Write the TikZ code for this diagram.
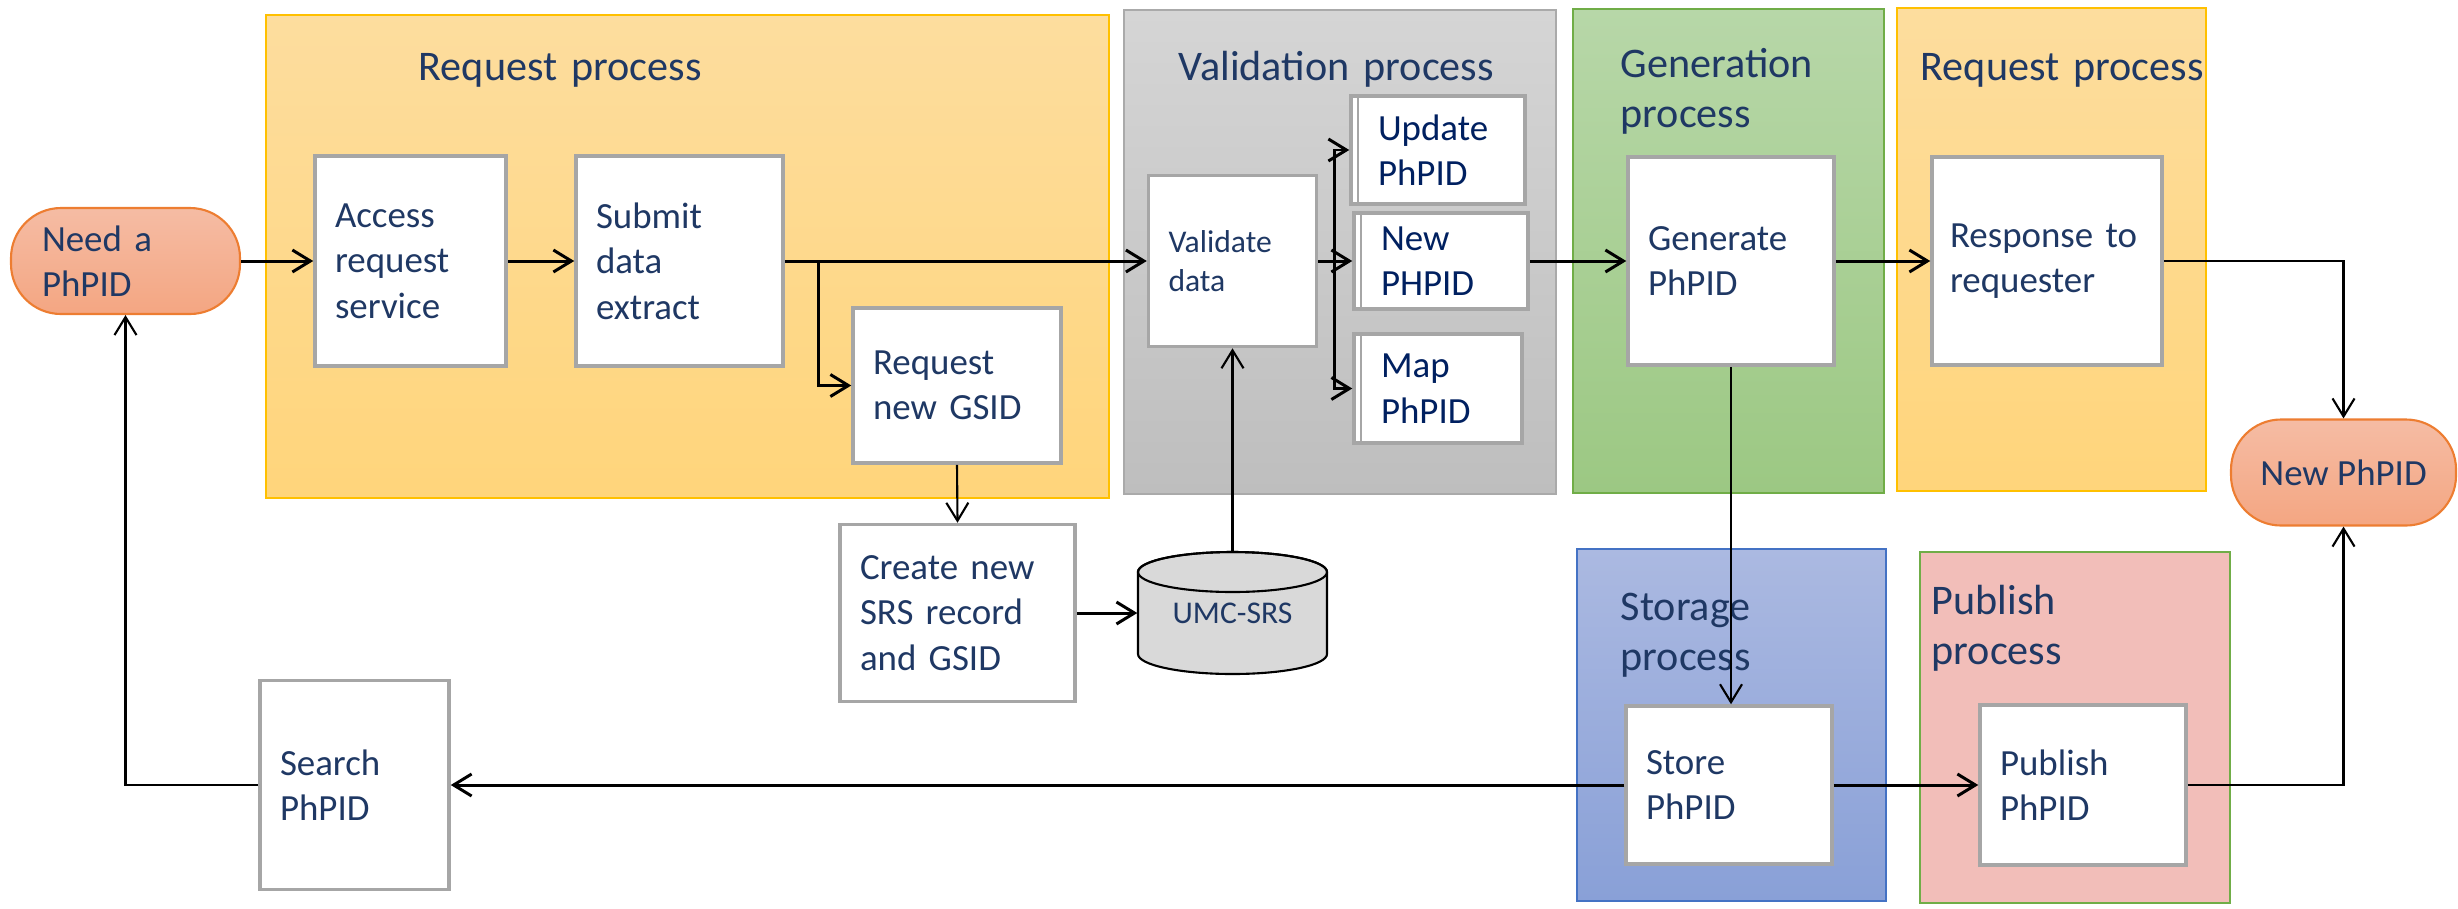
\documentclass[tikz,border=0pt]{standalone}
\usepackage{fontspec}
\setmainfont{Carlito}
\usepackage{tikz}
\usetikzlibrary{arrows.meta}

\definecolor{navy}{RGB}{31,56,100}
\definecolor{navyb}{RGB}{0,32,96}
\definecolor{boxgray}{RGB}{166,166,166}
\definecolor{reqtop}{RGB}{253,221,158}
\definecolor{reqbot}{RGB}{255,213,123}
\definecolor{reqline}{RGB}{255,192,0}
\definecolor{valtop}{RGB}{213,213,213}
\definecolor{valbot}{RGB}{190,190,190}
\definecolor{valline}{RGB}{170,170,170}
\definecolor{gentop}{RGB}{183,215,168}
\definecolor{genbot}{RGB}{156,200,131}
\definecolor{genline}{RGB}{112,173,71}
\definecolor{stotop}{RGB}{171,185,225}
\definecolor{stobot}{RGB}{137,160,215}
\definecolor{stoline}{RGB}{68,114,196}
\definecolor{pubfill}{RGB}{242,190,185}
\definecolor{termtop}{RGB}{245,188,164}
\definecolor{termbot}{RGB}{244,166,130}
\definecolor{termline}{RGB}{237,125,49}
\definecolor{dbfill}{RGB}{217,217,217}

\newcommand{\boxfont}{\fontsize{10.5}{12.9}\selectfont}
\newcommand{\titlefont}{\fontsize{12}{14.5}\selectfont}
\newcommand{\smallfont}{\fontsize{9}{11}\selectfont}
\hyphenpenalty=10000

\begin{document}
\begin{tikzpicture}[x=0.1mm, y=-0.1mm,
  panel/.style={line width=0.6pt},
  ptitle/.style={text=navy, font=\titlefont, align=left, inner sep=0pt, anchor=base west},
  procbox/.style={draw=boxgray, line width=1pt, fill=white, text=navy, font=\boxfont, align=left, inner xsep=2mm, inner ysep=0pt},
  dblbox/.style={procbox, text=navyb, inner xsep=2.7mm, path picture={\draw[boxgray, line width=0.8pt] ([xshift=0.7mm]path picture bounding box.north west) -- ([xshift=0.7mm]path picture bounding box.south west);}},
  terminal/.style={draw=termline, line width=0.6pt, rounded corners=5mm, top color=termtop, bottom color=termbot, text=navy, font=\boxfont, minimum height=10.6mm},
  flow/.style={-{Straight Barb[length=1.8mm,width=2.2mm]}, line width=0.85pt},
  link/.style={flow, line width=0.6pt}]
\useasboundingbox (0,0) rectangle (2458,908);

% process panels
\draw[panel, draw=reqline, top color=reqtop, bottom color=reqbot] (266,15) rectangle (1109,498);
\draw[panel, draw=valline, top color=valtop, bottom color=valbot] (1124,10) rectangle (1556,494);
\draw[panel, draw=genline, top color=gentop, bottom color=genbot] (1573,9) rectangle (1884,493);
\draw[panel, draw=reqline, top color=reqtop, bottom color=reqbot] (1897,8) rectangle (2206,491);
\draw[panel, draw=stoline, top color=stotop, bottom color=stobot] (1577,549) rectangle (1886,901);
\draw[panel, draw=genline, fill=pubfill] (1920,552) rectangle (2230,903);

\node[ptitle, text width=40mm] (treq) at (418,80) {Request process};
\node[ptitle, text width=40mm] (tval) at (1178,80) {Validation process};
\node[ptitle, text width=25mm] (tgen) at (1620,77) {Generation\\process};
\node[ptitle, text width=40mm] (tresp) at (1920,80) {Request process};
\node[ptitle, text width=25mm] (tsto) at (1620,620) {Storage\\process};
\node[ptitle, text width=25mm] (tpub) at (1931,614) {Publish\\process};

% database
\filldraw[fill=dbfill, line width=0.6pt] (1138,572) -- (1138,654) arc[start angle=180, end angle=360, x radius=9.45mm, y radius=2mm] -- (1327,572) arc[start angle=0, end angle=180, x radius=9.45mm, y radius=2mm] -- cycle;
\draw[line width=0.6pt] (1232.5,572) ellipse[x radius=9.45mm, y radius=2mm];
\node[text=navy, font=\smallfont, minimum width=18.9mm, minimum height=12.2mm] (srs) at (1232.5,613) {UMC-SRS};

\node[terminal, align=left, text width=16.7mm, inner xsep=3.1mm] (need) at (125.5,261) {Need a\\PhPID};
\node[procbox, text width=15.1mm, minimum height=21mm] (access) at (410.5,261) {Access\\request\\service};
\node[procbox, text width=16.7mm, minimum height=21mm] (submit) at (679.5,261) {Submit\\data\\extract};
\node[procbox, text width=16.8mm, minimum height=15.5mm] (reqgsid) at (957,385.5) {Request\\new GSID};
\node[procbox, text width=19.5mm, minimum height=17.7mm] (create) at (957.5,613) {Create new\\SRS record\\and GSID};
\node[procbox, text width=14.9mm, minimum height=20.9mm] (search) at (354.5,785) {Search\\PhPID};
\node[procbox, font=\smallfont, text width=12.8mm, minimum height=17.1mm] (validate) at (1232.5,261) {Validate\\data};
\node[dblbox, text width=12mm, minimum height=10.8mm] (update) at (1438,150) {Update\\PhPID};
\node[dblbox, text width=12mm, minimum height=9.6mm] (new) at (1441,261) {New\\PHPID};
\node[dblbox, text width=11.4mm, minimum height=10.9mm] (map) at (1438,388.5) {Map\\PhPID};
\node[procbox, text width=16.6mm, minimum height=20.8mm] (generate) at (1731,261) {Generate\\PhPID};
\node[procbox, text width=19.4mm, inner xsep=1.8mm, minimum height=20.8mm] (response) at (2047,261) {Response to\\requester};
\node[procbox, text width=16.6mm, minimum height=15.8mm] (store) at (1729,785) {Store\\PhPID};
\node[procbox, text width=16.6mm, minimum height=16mm] (publish) at (2083,785) {Publish\\PhPID};
\node[terminal, minimum width=22.5mm] (newphpid) at (2343.5,472.5) {New PhPID};

% connectors
\coordinate (fork) at (818,261);
\coordinate (bus) at (1334,261);
\draw[flow] (need.east) -- (access.west);
\draw[flow] (access.east) -- (submit.west);
\draw[flow] (submit.east) -- (validate.west);
\draw[flow] (fork) |- (reqgsid.west);
\draw[link] (reqgsid.south) -- (create.north);
\draw[flow] (create.east) -- (srs.west);
\draw[link] (srs.north) -- (validate.south);
\draw[flow] (validate.east) -- (new.west);
\draw[flow] (bus) |- (update.west);
\draw[flow] (bus) |- (map.west);
\draw[flow] (new.east) -- (generate.west);
\draw[flow] (generate.east) -- (response.west);
\draw[link] (response.east) -| (newphpid.north);
\draw[link] (generate.south) -- (generate.south |- store.north);
\draw[flow] (store.east) -- (publish.west);
\draw[link] (publish.east) -| (newphpid.south);
\draw[flow] (store.west) -- (search.east);
\draw[link] (search.west) -| (need.south);
\end{tikzpicture}
\end{document}
